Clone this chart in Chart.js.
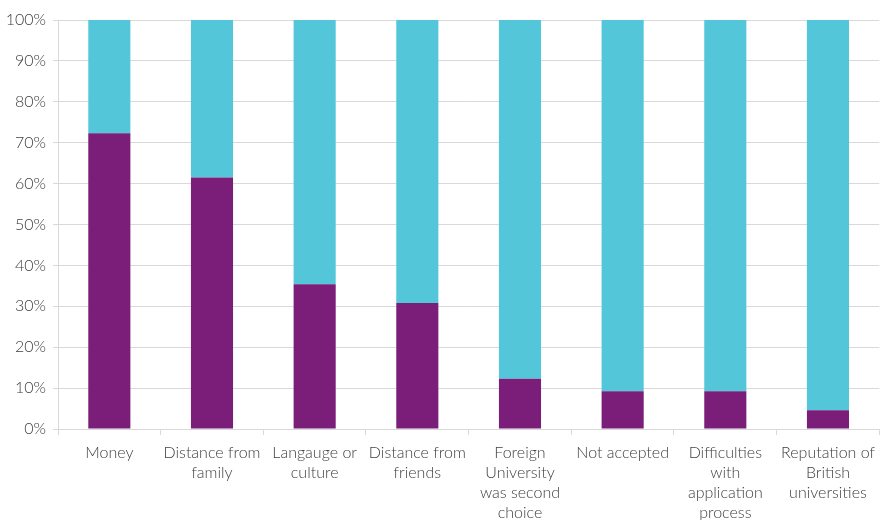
<!DOCTYPE html>
<html>
<head>
<meta charset="utf-8">
<script src="https://cdn.jsdelivr.net/npm/chart.js@4"></script>
<style>
  html, body { margin: 0; padding: 0; background: #ffffff; }
  #wrap { width: 883px; height: 520px; position: relative; }
</style>
</head>
<body>
<div id="wrap"><canvas id="c"></canvas></div>
<script>
const categories = [
  ["Money"],
  ["Distance from", "family"],
  ["Langauge or", "culture"],
  ["Distance from", "friends"],
  ["Foreign", "University", "was second", "choice"],
  ["Not accepted"],
  ["Difficulties", "with", "application", "process"],
  ["Reputation of", "British", "universities"]
];
const purpleValues = [72.3, 61.5, 35.4, 30.8, 12.3, 9.2, 9.2, 4.6];
const cyanValues   = [27.7, 38.5, 64.6, 69.2, 87.7, 90.8, 90.8, 95.4];
const yTicks = [0, 10, 20, 30, 40, 50, 60, 70, 80, 90, 100];

const FONT = "Lato, 'Open Sans', sans-serif";
const TEXT = "#404040";
const GRID = "#d9d9d9";

new Chart(document.getElementById('c'), {
  type: 'bar',
  data: {
    labels: categories,
    datasets: [
      { label: 'Yes', data: purpleValues, backgroundColor: '#7a1e79', categoryPercentage: 1, barPercentage: 0.41 },
      { label: 'No', data: cyanValues, backgroundColor: '#54c6d9', categoryPercentage: 1, barPercentage: 0.41 }
    ]
  },
  options: {
    responsive: true,
    maintainAspectRatio: false,
    animation: false,
    layout: { padding: { top: 20, right: 1, left: 0, bottom: 0 } },
    plugins: { legend: { display: false }, tooltip: { enabled: false } },
    scales: {
      x: {
        stacked: true,
        grid: { drawOnChartArea: false, drawTicks: true, tickLength: 6, color: GRID, offset: true },
        border: { display: true, color: GRID, width: 1 },
        ticks: { color: TEXT, font: { family: FONT, size: 16, weight: 300, lineHeight: 1.25 }, padding: 8, maxRotation: 0, autoSkip: false },
        afterFit: (s) => { s.height = 91; }
      },
      y: {
        stacked: true,
        min: 0, max: 100,
        afterBuildTicks: (s) => { s.ticks = yTicks.map(v => ({ value: v })); },
        grid: { color: GRID, lineWidth: 1, drawTicks: true, tickLength: 5 },
        border: { display: true, color: GRID, width: 1 },
        ticks: { color: TEXT, font: { family: FONT, size: 16, weight: 300 }, padding: 7, callback: (v) => v + '%' },
        afterFit: (s) => { s.width = 58; }
      }
    }
  }
});
</script>
</body>
</html>
